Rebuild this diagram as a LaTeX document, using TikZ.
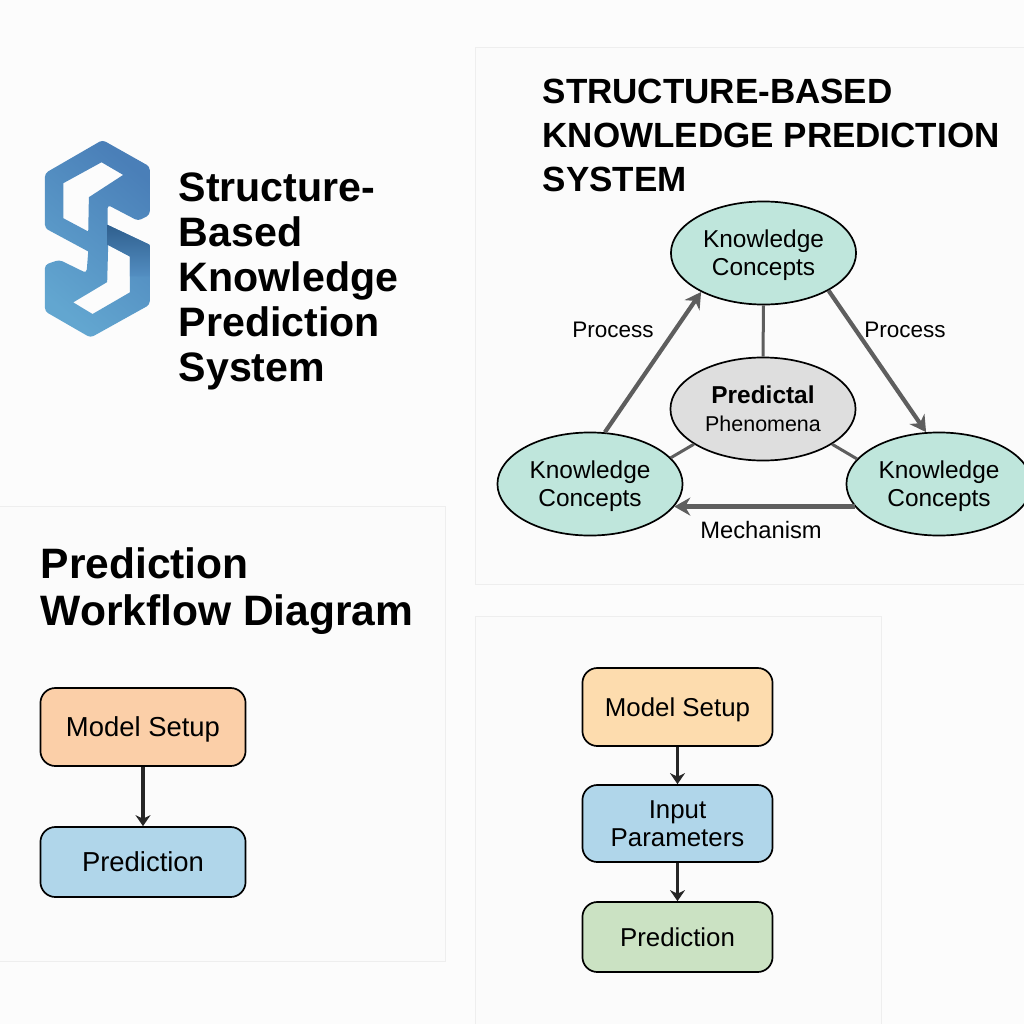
\documentclass[tikz,border=0pt]{standalone}
\usepackage{fontspec}
\setmainfont{Liberation Sans}
\usetikzlibrary{arrows.meta,positioning,shapes.geometric}
\definecolor{PageBG}{HTML}{FCFCFC}
\definecolor{PanelBG}{HTML}{FBFBFB}
\definecolor{PanelLine}{HTML}{EEEEEE}
\definecolor{Mint}{HTML}{BFE6DC}
\definecolor{CoreGray}{HTML}{DEDEDE}
\definecolor{LinkGray}{HTML}{5E5E5E}
\definecolor{Peach}{HTML}{FBCFA8}
\definecolor{Sand}{HTML}{FDDCAE}
\definecolor{SkyBox}{HTML}{B0D6EA}
\definecolor{Sage}{HTML}{CBE2C3}
\definecolor{LogoDark}{HTML}{4A7FB8}
\definecolor{LogoLight}{HTML}{62A6D0}
\definecolor{LogoBand}{HTML}{2F5F8E}

\begin{document}
\begin{tikzpicture}[
    x=0.01cm,y=-0.01cm,
    panel/.style={draw=PanelLine,fill=PanelBG,line width=0.1mm},
    knode/.style={ellipse,draw=black,fill=Mint,line width=0.17mm,minimum width=1.85cm,minimum height=1.03cm,inner sep=0pt,align=center,text depth=0pt,font=\fontsize{6.95}{7.9}\selectfont},
    fbox/.style={rectangle,rounded corners=1.5mm,draw=black,line width=0.17mm,minimum width=2.05cm,inner sep=0pt,align=center,text depth=0pt,font=\fontsize{7.8}{7.9}\selectfont},
    rbox/.style={fbox,minimum width=1.9cm,font=\fontsize{7.35}{7.9}\selectfont},
    lbl/.style={font=\fontsize{6.4}{7.4}\selectfont,inner sep=0pt},
    ttl/.style={anchor=north west,inner sep=0pt,align=left,font=\bfseries\fontsize{12.1}{13.4}\selectfont},
    glink/.style={draw=LinkGray,line width=0.42mm,-{Stealth[length=1.6mm,width=1.8mm]}},
    gline/.style={draw=LinkGray,line width=0.3mm},
    blink/.style={draw=black!85,line width=0.32mm,-{Stealth[length=1.1mm,width=1.5mm]}},
  ]
  \useasboundingbox (0,0) rectangle (1024,1024);
  \fill[PageBG] (0,0) rectangle (1024,1024);
  % Panels
  \draw[panel] (475,47) rectangle (1030,584);
  \draw[panel] (-5,506) rectangle (445,961);
  \draw[panel] (475,616) rectangle (881,1030);
  % Logo
  \begin{scope}[shift={(20,120)},x=0.00333cm,y=-0.00333cm]
    \shade[left color=LogoDark,right color=LogoLight,shading angle=-40,even odd rule,rounded corners=1pt]
      (248,60) -- (390,140) -- (390,285) -- (355,303) -- (263,255) [sharp corners] -- (263,315)
      -- (390,375) [rounded corners=1pt] -- (390,555) -- (212,654) -- (75,575) -- (75,435) -- (118,420)
      -- (200,460) [sharp corners] -- (205,395) [rounded corners=1pt] -- (75,325) -- (75,160) -- cycle
      [sharp corners]
      (245,127) -- (310,165) -- (207,232) -- (205,335) -- (130,295) -- (130,190) -- cycle
      (265,375) -- (330,410) -- (330,518) -- (218,583) -- (160,548) -- (262,487) -- cycle;
    \shade[top color=LogoBand,bottom color=LogoDark!62!LogoLight]
      (263,315) -- (386,373) -- (390,380) -- (390,470) -- (330,470) -- (330,410) -- (263,375) -- cycle;
  \end{scope}
  \node[ttl,font=\bfseries\fontsize{11.7}{12.8}\selectfont] (logotext) at (178,172) {Structure-\\Based\\Knowledge\\Prediction\\System};
  % Triangle panel
  \node[ttl,font=\bfseries\fontsize{9.95}{12.6}\selectfont] (tritext) at (542,78) {STRUCTURE-BASED\\KNOWLEDGE PREDICTION\\SYSTEM};
  \node[knode] (kct) at (763.5,253) {Knowledge\\Concepts};
  \node[knode,fill=CoreGray] (pp) at (763,409) {{\bfseries Predictal}\\{\fontsize{6.1}{7.9}\selectfont Phenomena}};
  \node[knode] (kcl) at (590,484) {Knowledge\\Concepts};
  \node[knode] (kcr) at (939,484) {Knowledge\\Concepts};
  \draw[gline] (kct.south) -- (pp.north);
  \draw[gline] (pp.207) -- (kcl.18);
  \draw[gline] (pp.-27) -- (kcr.163);
  \draw[glink] (kcl.74) -- (kct.212);
  \draw[glink] (kct.-30) -- (kcr.104);
  \draw[glink] (kcr.195) -- (kcl.-15);
  \node[lbl] (pl) at (613,330) {Process};
  \node[lbl] (pr) at (905,330) {Process};
  \node[lbl,font=\fontsize{6.75}{7.4}\selectfont] (mech) at (761,530) {Mechanism};
  % Workflow panel
  \node[ttl] (wftext) at (40,547) {Prediction\\Workflow Diagram};
  \node[fbox,fill=Peach,minimum height=0.78cm] (ms1) at (143,727) {Model Setup};
  \node[fbox,fill=SkyBox,minimum height=0.7cm] (pr1) at (143,862) {Prediction};
  \draw[blink] (ms1) -- (pr1);
  % Three step panel
  \node[rbox,fill=Sand,minimum height=0.78cm] (ms2) at (677.5,707) {Model Setup};
  \node[rbox,fill=SkyBox,minimum height=0.77cm] (ip2) at (677.5,823.5) {Input\\Parameters};
  \node[rbox,fill=Sage,minimum height=0.7cm] (pr2) at (677.5,937) {Prediction};
  \draw[blink] (ms2) -- (ip2);
  \draw[blink] (ip2) -- (pr2);
\end{tikzpicture}
\end{document}
